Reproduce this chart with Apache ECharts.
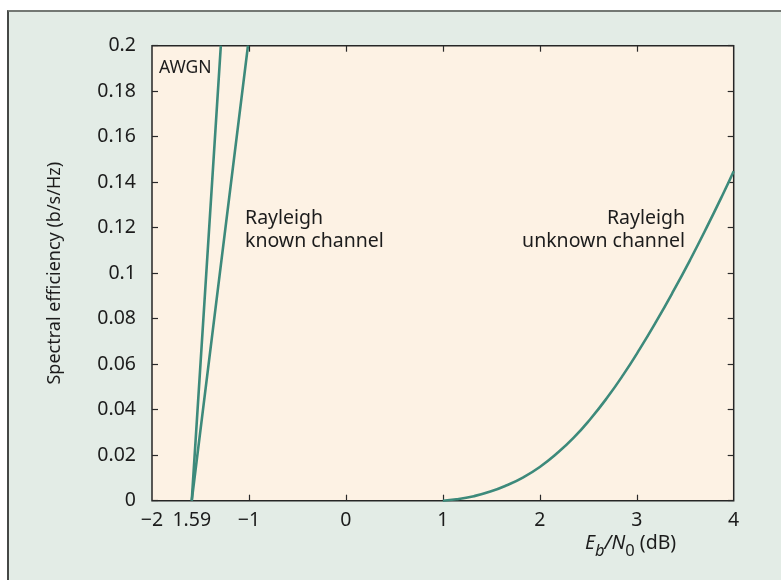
<!DOCTYPE html>
<html>
<head>
<meta charset="utf-8">
<script src="https://cdn.jsdelivr.net/npm/echarts@6/dist/echarts.min.js"></script>
<style>
  html, body { margin: 0; padding: 0; background: #ffffff; }
  #wrap { position: relative; width: 781px; height: 580px; overflow: hidden; }
  #box { position: absolute; left: 7px; top: 10px; right: 0; bottom: 0;
         background: #e3ece6; border-top: 2px solid #747874; border-left: 2px solid #454846; }
  #chart { position: absolute; left: 0; top: 0; width: 781px; height: 580px; }
</style>
</head>
<body>
<div id="wrap"><div id="box"></div><div id="chart"></div></div>
<script>
// ---- data ----
const xTickValues = [-1, 0, 1, 2, 3];
const xLabelValues = [-2, -1.59, -1, 0, 1, 2, 3, 4];
const xLabelTexts = ['\u22122', '1.59', '\u22121', '0', '1', '2', '3', '4'];

const awgnX = [-1.59, -1.44, -1.29];
const awgnY = [0, 0.1, 0.2];

const knownX = [-1.59, -1.30, -1.01];
const knownY = [0, 0.1, 0.2];

const unknownX = [1.0, 1.14, 1.32, 1.49, 1.66, 1.83, 2.0, 2.175, 2.35, 2.52, 2.69, 2.86, 3.03, 3.2, 3.38, 3.55, 3.72, 3.89, 4.0];
const unknownY = [0, 0.0006, 0.0020, 0.0040, 0.0068, 0.0103, 0.0148, 0.0207, 0.0277, 0.0358, 0.0450, 0.0553, 0.0666, 0.0787, 0.0923, 0.1058, 0.1200, 0.1348, 0.1448];

const pairs = (xs, ys) => xs.map((x, i) => [x, ys[i]]);

const FONT = 'Noto Sans';
const TXT = '#1c1c1c';
const LINE = '#3d8a7b';

const chart = echarts.init(document.getElementById('chart'), null, { renderer: 'canvas' });

const tickStyle = { inside: true, length: 6, lineStyle: { color: '#2a2a2a', width: 1.2 } };
const noLine = { show: false, onZero: false };

chart.setOption({
  backgroundColor: 'transparent',
  animation: false,
  textStyle: { fontFamily: FONT },
  grid: {
    left: 152, top: 45.7, right: 47.3, bottom: 79.3,
    show: true, backgroundColor: '#fdf2e4', borderColor: '#262626', borderWidth: 1.5,
    containLabel: false
  },
  xAxis: [
    {
      type: 'value', min: -2, max: 4, position: 'bottom',
      axisLine: noLine,
      splitLine: { show: false },
      axisTick: Object.assign({ customValues: xTickValues }, tickStyle),
      axisLabel: {
        customValues: xLabelValues,
        formatter: v => { const i = xLabelValues.findIndex(u => Math.abs(u - v) < 1e-6); return i >= 0 ? xLabelTexts[i] : ''; },
        color: TXT, fontSize: 19.5, margin: 10, fontFamily: FONT
      }
    },
    {
      type: 'value', min: -2, max: 4, position: 'top',
      axisLine: noLine, splitLine: { show: false },
      axisTick: Object.assign({ customValues: xTickValues }, tickStyle),
      axisLabel: { show: false }
    }
  ],
  yAxis: [
    {
      type: 'value', min: 0, max: 0.2, interval: 0.02, position: 'left',
      axisLine: noLine, splitLine: { show: false },
      axisTick: tickStyle,
      axisLabel: { color: TXT, fontSize: 19.5, margin: 16, fontFamily: FONT,
                   formatter: v => String(Math.round(v * 100) / 100) },
      name: 'Spectral efficiency (b/s/Hz)', nameLocation: 'middle', nameRotate: 90, nameGap: 88,
      nameTextStyle: { color: TXT, fontSize: 18, fontFamily: FONT }
    },
    {
      type: 'value', min: 0, max: 0.2, interval: 0.02, position: 'right',
      axisLine: noLine, splitLine: { show: false },
      axisTick: tickStyle, axisLabel: { show: false }
    }
  ],
  series: [
    { name: 'AWGN', type: 'line', data: pairs(awgnX, awgnY), smooth: true, showSymbol: false,
      lineStyle: { color: LINE, width: 2.6 }, clip: true },
    { name: 'Rayleigh known channel', type: 'line', data: pairs(knownX, knownY), smooth: false, showSymbol: false,
      lineStyle: { color: LINE, width: 2.6 }, clip: true },
    { name: 'Rayleigh unknown channel', type: 'line', data: pairs(unknownX, unknownY), smooth: true, showSymbol: false,
      lineStyle: { color: LINE, width: 2.6 }, clip: true }
  ],
  graphic: [
    { type: 'text', x: 159, y: 59, style: { text: 'AWGN', fill: TXT, font: '17.5px "' + FONT + '"' } },
    { type: 'text', x: 245, y: 207, style: { text: 'Rayleigh\nknown channel', fill: TXT, font: '19.5px "' + FONT + '"', lineHeight: 23, align: 'left' } },
    { type: 'text', x: 685, y: 207, style: { text: 'Rayleigh\nunknown channel', fill: TXT, font: '19.5px "' + FONT + '"', lineHeight: 23, align: 'right' } },
    { type: 'text', x: 585, y: 533, style: {
        text: '{i|E}{s|b}{i|/N}{sn|0}{n| (dB)}',
        rich: {
          i: { fontSize: 19.5, fontStyle: 'italic', fill: TXT, fontFamily: FONT, lineHeight: 24, verticalAlign: 'top' },
          s: { fontSize: 16.5, fontStyle: 'italic', fill: TXT, fontFamily: FONT, lineHeight: 18, padding: [10, 0, 0, 0], verticalAlign: 'top' },
          sn: { fontSize: 16.5, fill: TXT, fontFamily: FONT, lineHeight: 18, padding: [10, 0, 0, 0], verticalAlign: 'top' },
          n: { fontSize: 19.5, fill: TXT, fontFamily: FONT, lineHeight: 24, verticalAlign: 'top' }
        }
    } }
  ]
});
</script>
</body>
</html>
